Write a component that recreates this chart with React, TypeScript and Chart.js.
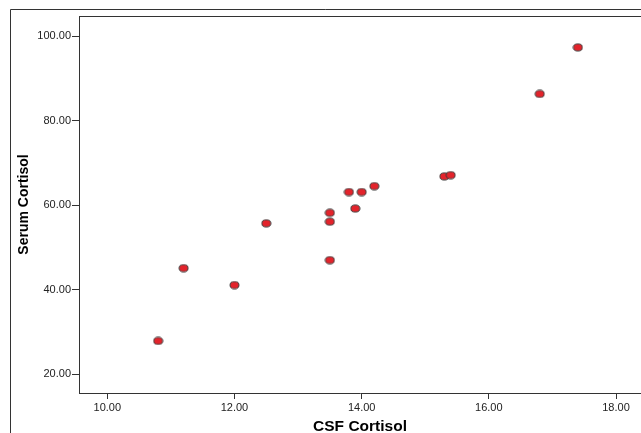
import React, { useEffect, useRef } from 'react';
import { Chart, registerables } from 'chart.js';

Chart.register(...registerables);

const csfCortisol = [10.8, 11.2, 12.0, 12.5, 13.5, 13.5, 13.5, 13.8, 13.9, 14.0, 14.2, 15.3, 15.4, 16.8, 17.4];
const serumCortisol = [27.9, 45.1, 41.1, 55.7, 58.2, 56.1, 47.0, 63.1, 59.2, 63.1, 64.5, 66.8, 67.1, 86.3, 97.3];
const xTickValues = [10, 12, 14, 16, 18];
const yTickValues = [20, 40, 60, 80, 100];
const xTitle = 'CSF Cortisol';
const yTitle = 'Serum Cortisol';

const FONT = "'Liberation Sans', Arial, sans-serif";
const LINE = '#333333';

function makeMarker(): HTMLCanvasElement {
  const c = document.createElement('canvas');
  c.width = 11;
  c.height = 9;
  const g = c.getContext('2d')!;
  g.beginPath();
  g.ellipse(5.5, 4.5, 4.5, 3.6, 0, 0, Math.PI * 2);
  g.fillStyle = '#e3232b';
  g.fill();
  g.lineWidth = 1;
  g.strokeStyle = '#3a3a3a';
  g.stroke();
  return c;
}

const framePlugin = {
  id: 'frame',
  afterDraw(chart: any) {
    const { ctx, chartArea } = chart;
    ctx.save();
    ctx.strokeStyle = LINE;
    ctx.lineWidth = 1;
    ctx.beginPath();
    ctx.moveTo(10.5, 433);
    ctx.lineTo(10.5, 9.5);
    ctx.lineTo(641, 9.5);
    ctx.stroke();
    ctx.beginPath();
    ctx.moveTo(chartArea.left, chartArea.top + 0.5);
    ctx.lineTo(chartArea.right, chartArea.top + 0.5);
    ctx.stroke();
    ctx.restore();
  },
};

export default function App() {
  const ref = useRef<HTMLCanvasElement>(null);
  useEffect(() => {
    const marker = makeMarker();
    const chart = new Chart(ref.current!, {
      type: 'scatter',
      data: {
        datasets: [
          {
            data: csfCortisol.map((x, i) => ({ x, y: serumCortisol[i] })),
            pointStyle: marker as any,
            pointRadius: 4.5,
            backgroundColor: '#e3232b',
            borderColor: '#3a3a3a',
          },
        ],
      },
      options: {
        animation: false,
        responsive: false,
        layout: { autoPadding: false, padding: { top: 16, left: 0, right: 0, bottom: 0 } },
        plugins: { legend: { display: false }, tooltip: { enabled: false } },
        scales: {
          x: {
            type: 'linear',
            min: 9.555,
            max: 18.393,
            afterBuildTicks: (s: any) => {
              s.ticks = xTickValues.map((v) => ({ value: v }));
            },
            afterFit: (s: any) => {
              s.height = 40;
            },
            grid: { display: true, drawOnChartArea: false, drawTicks: true, tickLength: 6, color: LINE, lineWidth: 1 },
            border: { display: true, color: LINE, width: 1 },
            ticks: {
              padding: 2,
              color: '#222',
              font: { family: FONT, size: 11 },
              callback: (v: any) => Number(v).toFixed(2),
            },
            title: {
              display: true,
              text: xTitle,
              color: '#000',
              font: { family: FONT, size: 15.5, weight: 'bold', lineHeight: 1 },
              padding: { top: 0, bottom: -1 },
            },
          },
          y: {
            type: 'linear',
            min: 15.58,
            max: 104.73,
            afterBuildTicks: (s: any) => {
              s.ticks = yTickValues.map((v) => ({ value: v }));
            },
            afterFit: (s: any) => {
              s.width = 79;
            },
            grid: { display: true, drawOnChartArea: false, drawTicks: true, tickLength: 7, color: LINE, lineWidth: 1 },
            border: { display: true, color: LINE, width: 1 },
            ticks: {
              padding: 1,
              color: '#222',
              font: { family: FONT, size: 11 },
              callback: (v: any) => Number(v).toFixed(2),
            },
            title: {
              display: true,
              text: yTitle,
              color: '#000',
              font: { family: FONT, size: 14, weight: 'bold', lineHeight: 1 },
              padding: { top: 17, bottom: 0 },
            },
          },
        },
      },
      plugins: [framePlugin],
    });
    return () => chart.destroy();
  }, []);
  return (
    <div style={{ position: 'fixed', left: 0, top: 0, width: 641, height: 433, background: '#fff' }}>
      <canvas ref={ref} width={641} height={433} style={{ display: 'block', width: 641, height: 433 }} />
    </div>
  );
}
